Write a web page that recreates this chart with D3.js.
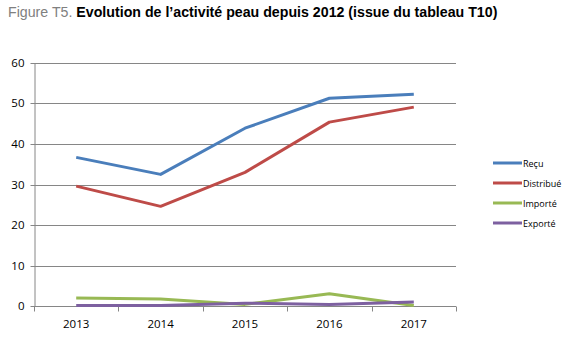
<!DOCTYPE html>
<html lang="fr">
<head>
<meta charset="utf-8">
<title>Figure T5</title>
<script src="https://d3js.org/d3.v7.min.js"></script>
<style>
  body { margin: 0; background: #fff; }
  svg text { font-family: "Open Sans", "Liberation Sans", sans-serif; }
</style>
</head>
<body>
<svg id="chart" width="575" height="340"></svg>
<script>
// data per year
var years = ["2013", "2014", "2015", "2016", "2017"];
var recu = [36.7, 32.5, 43.9, 51.3, 52.3];
var distribue = [29.6, 24.6, 33.0, 45.4, 49.1];
var importe = [2.0, 1.7, 0.4, 3.0, 0.1];
var exporte = [0.1, 0.1, 0.7, 0.4, 1.0];
var yTicks = [0, 10, 20, 30, 40, 50, 60];

var series = [
  {name: "Reçu", values: recu, color: "#4a7ebb"},
  {name: "Distribué", values: distribue, color: "#be4b48"},
  {name: "Importé", values: importe, color: "#98b954"},
  {name: "Exporté", values: exporte, color: "#7d60a0"}
];

var svg = d3.select("#chart");
var plotLeft = 34, plotRight = 456, plotTop = 63, plotBottom = 306;

var x = d3.scaleBand().domain(years).range([plotLeft, plotRight]);
var y = d3.scaleLinear().domain([0, 60]).range([plotBottom, plotTop]);

// title
var title = svg.append("text").attr("x", 8).attr("y", 17)
  .style("font-family", "Arial, 'Liberation Sans', sans-serif")
  .style("font-size", "14.2px");
title.append("tspan").attr("fill", "#808080").text("Figure T5. ");
title.append("tspan").attr("fill", "#000").style("font-weight", "bold")
  .text("Evolution de l’activité peau depuis 2012 (issue du tableau T10)");

// gridlines
svg.append("g").selectAll("line").data(yTicks.filter(function(d){ return d > 0; }))
  .enter().append("line")
  .attr("x1", plotLeft).attr("x2", plotRight)
  .attr("y1", function(d){ return Math.round(y(d)) + 0.5; })
  .attr("y2", function(d){ return Math.round(y(d)) + 0.5; })
  .attr("stroke", "#868686").attr("stroke-width", 1);

// y axis
var yAxis = svg.append("g").attr("transform", "translate(" + (plotLeft + 0.5) + ",0.5)")
  .call(d3.axisLeft(y).tickValues(yTicks).tickSize(4).tickPadding(6).tickSizeOuter(0));
yAxis.select(".domain").attr("stroke", "#868686");
yAxis.selectAll(".tick line").attr("stroke", "#868686");
yAxis.selectAll(".tick text").attr("fill", "#000").style("font-size", "11.5px");
yAxis.selectAll(".tick").attr("transform", function(d){ return "translate(0," + Math.round(y(d)) + ")"; });

// x axis
var xg = svg.append("g").attr("transform", "translate(0," + (Math.round(plotBottom) + 0.5) + ")");
xg.append("line").attr("x1", plotLeft).attr("x2", plotRight).attr("stroke", "#868686");
var bounds = years.map(function(d){ return x(d); }).concat([plotRight]);
xg.selectAll(".xt").data(bounds).enter().append("line")
  .attr("x1", function(d){ return Math.round(d) + 0.5; })
  .attr("x2", function(d){ return Math.round(d) + 0.5; })
  .attr("y1", 0).attr("y2", 5).attr("stroke", "#868686");
xg.selectAll(".xl").data(years).enter().append("text")
  .attr("x", function(d){ return x(d) + x.bandwidth() / 2; })
  .attr("y", 21).attr("text-anchor", "middle")
  .style("font-size", "11.5px").attr("fill", "#000")
  .text(function(d){ return d; });

// lines
var line = d3.line()
  .x(function(d, i){ return x(years[i]) + x.bandwidth() / 2; })
  .y(function(d){ return y(d); });

svg.append("g").selectAll("path").data(series).enter().append("path")
  .attr("d", function(s){ return line(s.values); })
  .attr("fill", "none")
  .attr("stroke", function(s){ return s.color; })
  .attr("stroke-width", 3)
  .attr("stroke-linejoin", "round");

// legend
var lg = svg.append("g").selectAll("g").data(series).enter().append("g")
  .attr("transform", function(s, i){ return "translate(493," + (163 + i * 20) + ")"; });
lg.append("line").attr("x1", 0).attr("x2", 29)
  .attr("stroke", function(s){ return s.color; }).attr("stroke-width", 3);
lg.append("text").attr("x", 30).attr("y", 3.5)
  .style("font-size", "9px").attr("fill", "#000")
  .text(function(s){ return s.name; });
</script>
</body>
</html>
